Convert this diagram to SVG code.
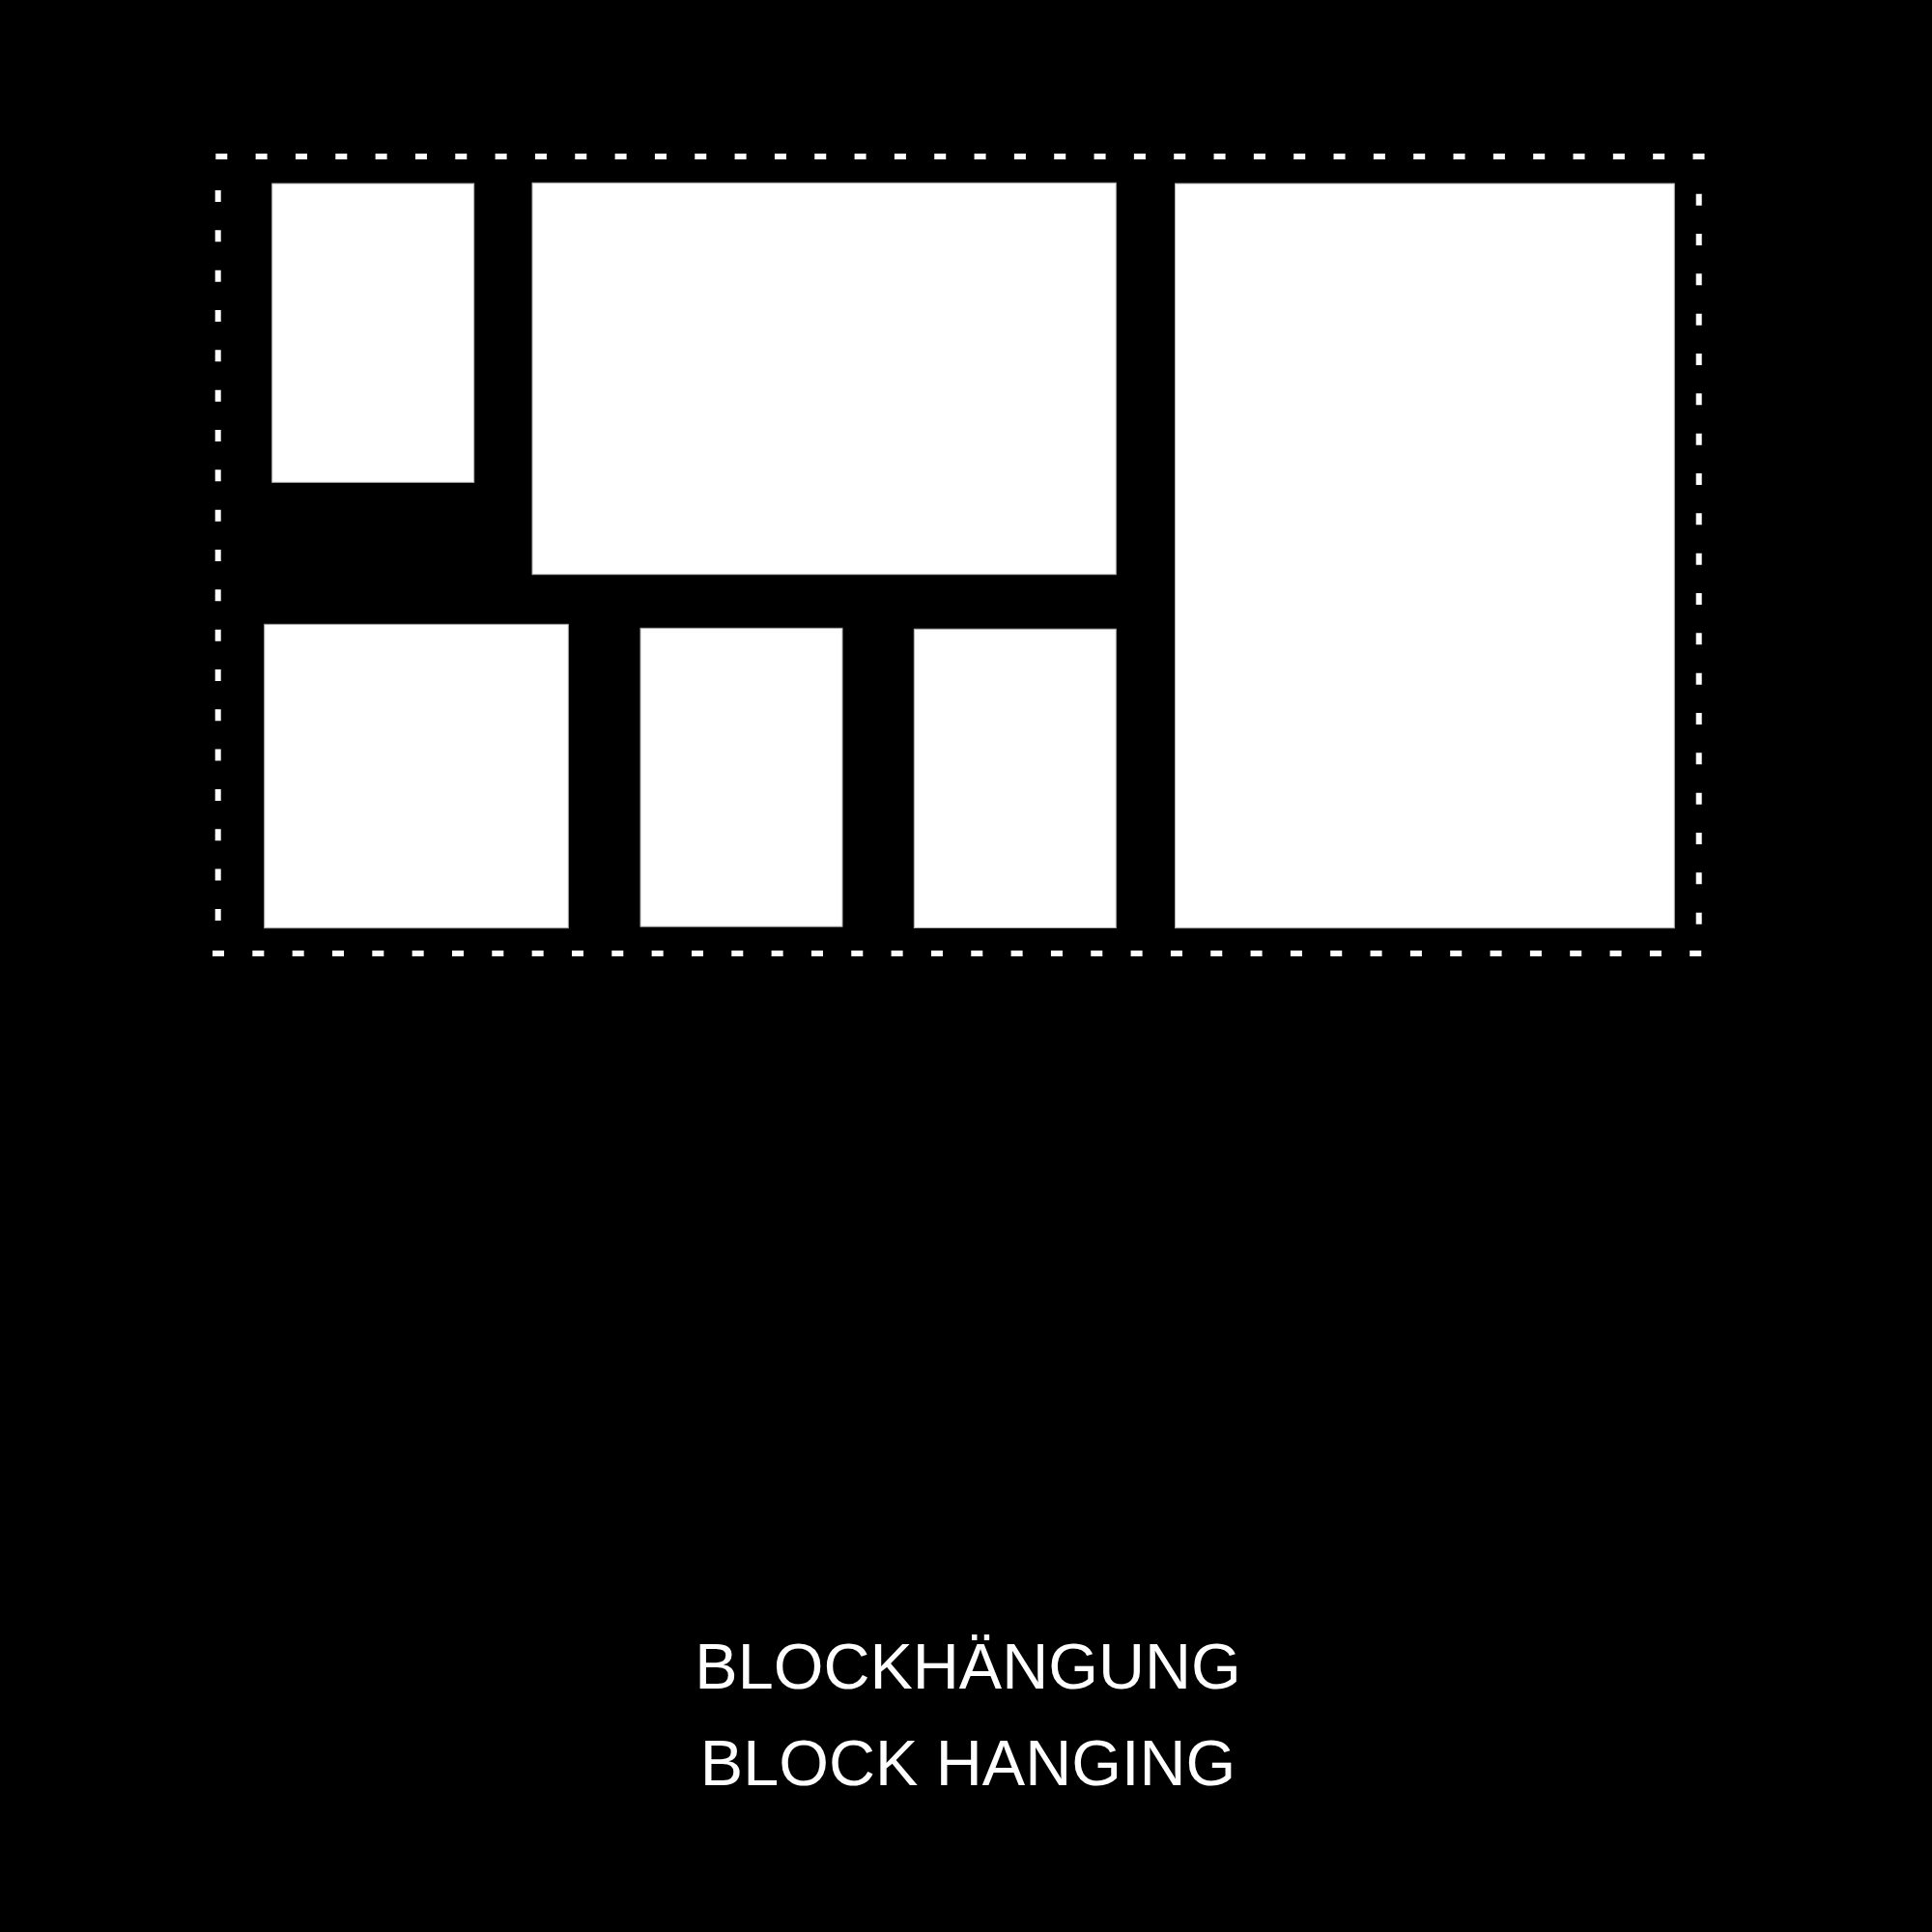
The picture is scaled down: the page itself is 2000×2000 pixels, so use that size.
<svg xmlns="http://www.w3.org/2000/svg" width="2000" height="2000" viewBox="0 0 2000 2000">
<style>
.blk{fill:#ffffff;stroke:#b0b0b0;stroke-width:1}
.frame{stroke:#ffffff;stroke-width:6;stroke-dasharray:12 29.33;fill:none}
.lbl{font-family:"Liberation Sans",Arial,sans-serif;font-size:66.5px;fill:#ffffff;text-anchor:middle}
</style>
<rect x="0" y="0" width="2000" height="2000" fill="#000000"/>
<g id="frame">
<line class="frame" x1="223.3" y1="162" x2="1766" y2="162"/>
<line class="frame" x1="220" y1="987" x2="1763" y2="987"/>
<line class="frame" x1="225.7" y1="197" x2="225.7" y2="954"/>
<line class="frame" x1="1758.7" y1="200.7" x2="1758.7" y2="957"/>
</g>
<g id="block1"><rect class="blk" x="281.7" y="190" width="209" height="309.3"/></g>
<g id="block2"><rect class="blk" x="551" y="189.3" width="604.3" height="405.4"/></g>
<g id="block3"><rect class="blk" x="1216.5" y="190" width="516.8" height="770.7"/></g>
<g id="block4"><rect class="blk" x="273.7" y="646.3" width="314.6" height="314.4"/></g>
<g id="block5"><rect class="blk" x="663" y="650.3" width="209" height="308.9"/></g>
<g id="block6"><rect class="blk" x="946.3" y="651.2" width="209" height="309.3"/></g>
<g id="title">
<text class="lbl" x="1002" y="1748">BLOCKHÄNGUNG</text>
<text class="lbl" x="1002" y="1848">BLOCK HANGING</text>
</g>
</svg>
